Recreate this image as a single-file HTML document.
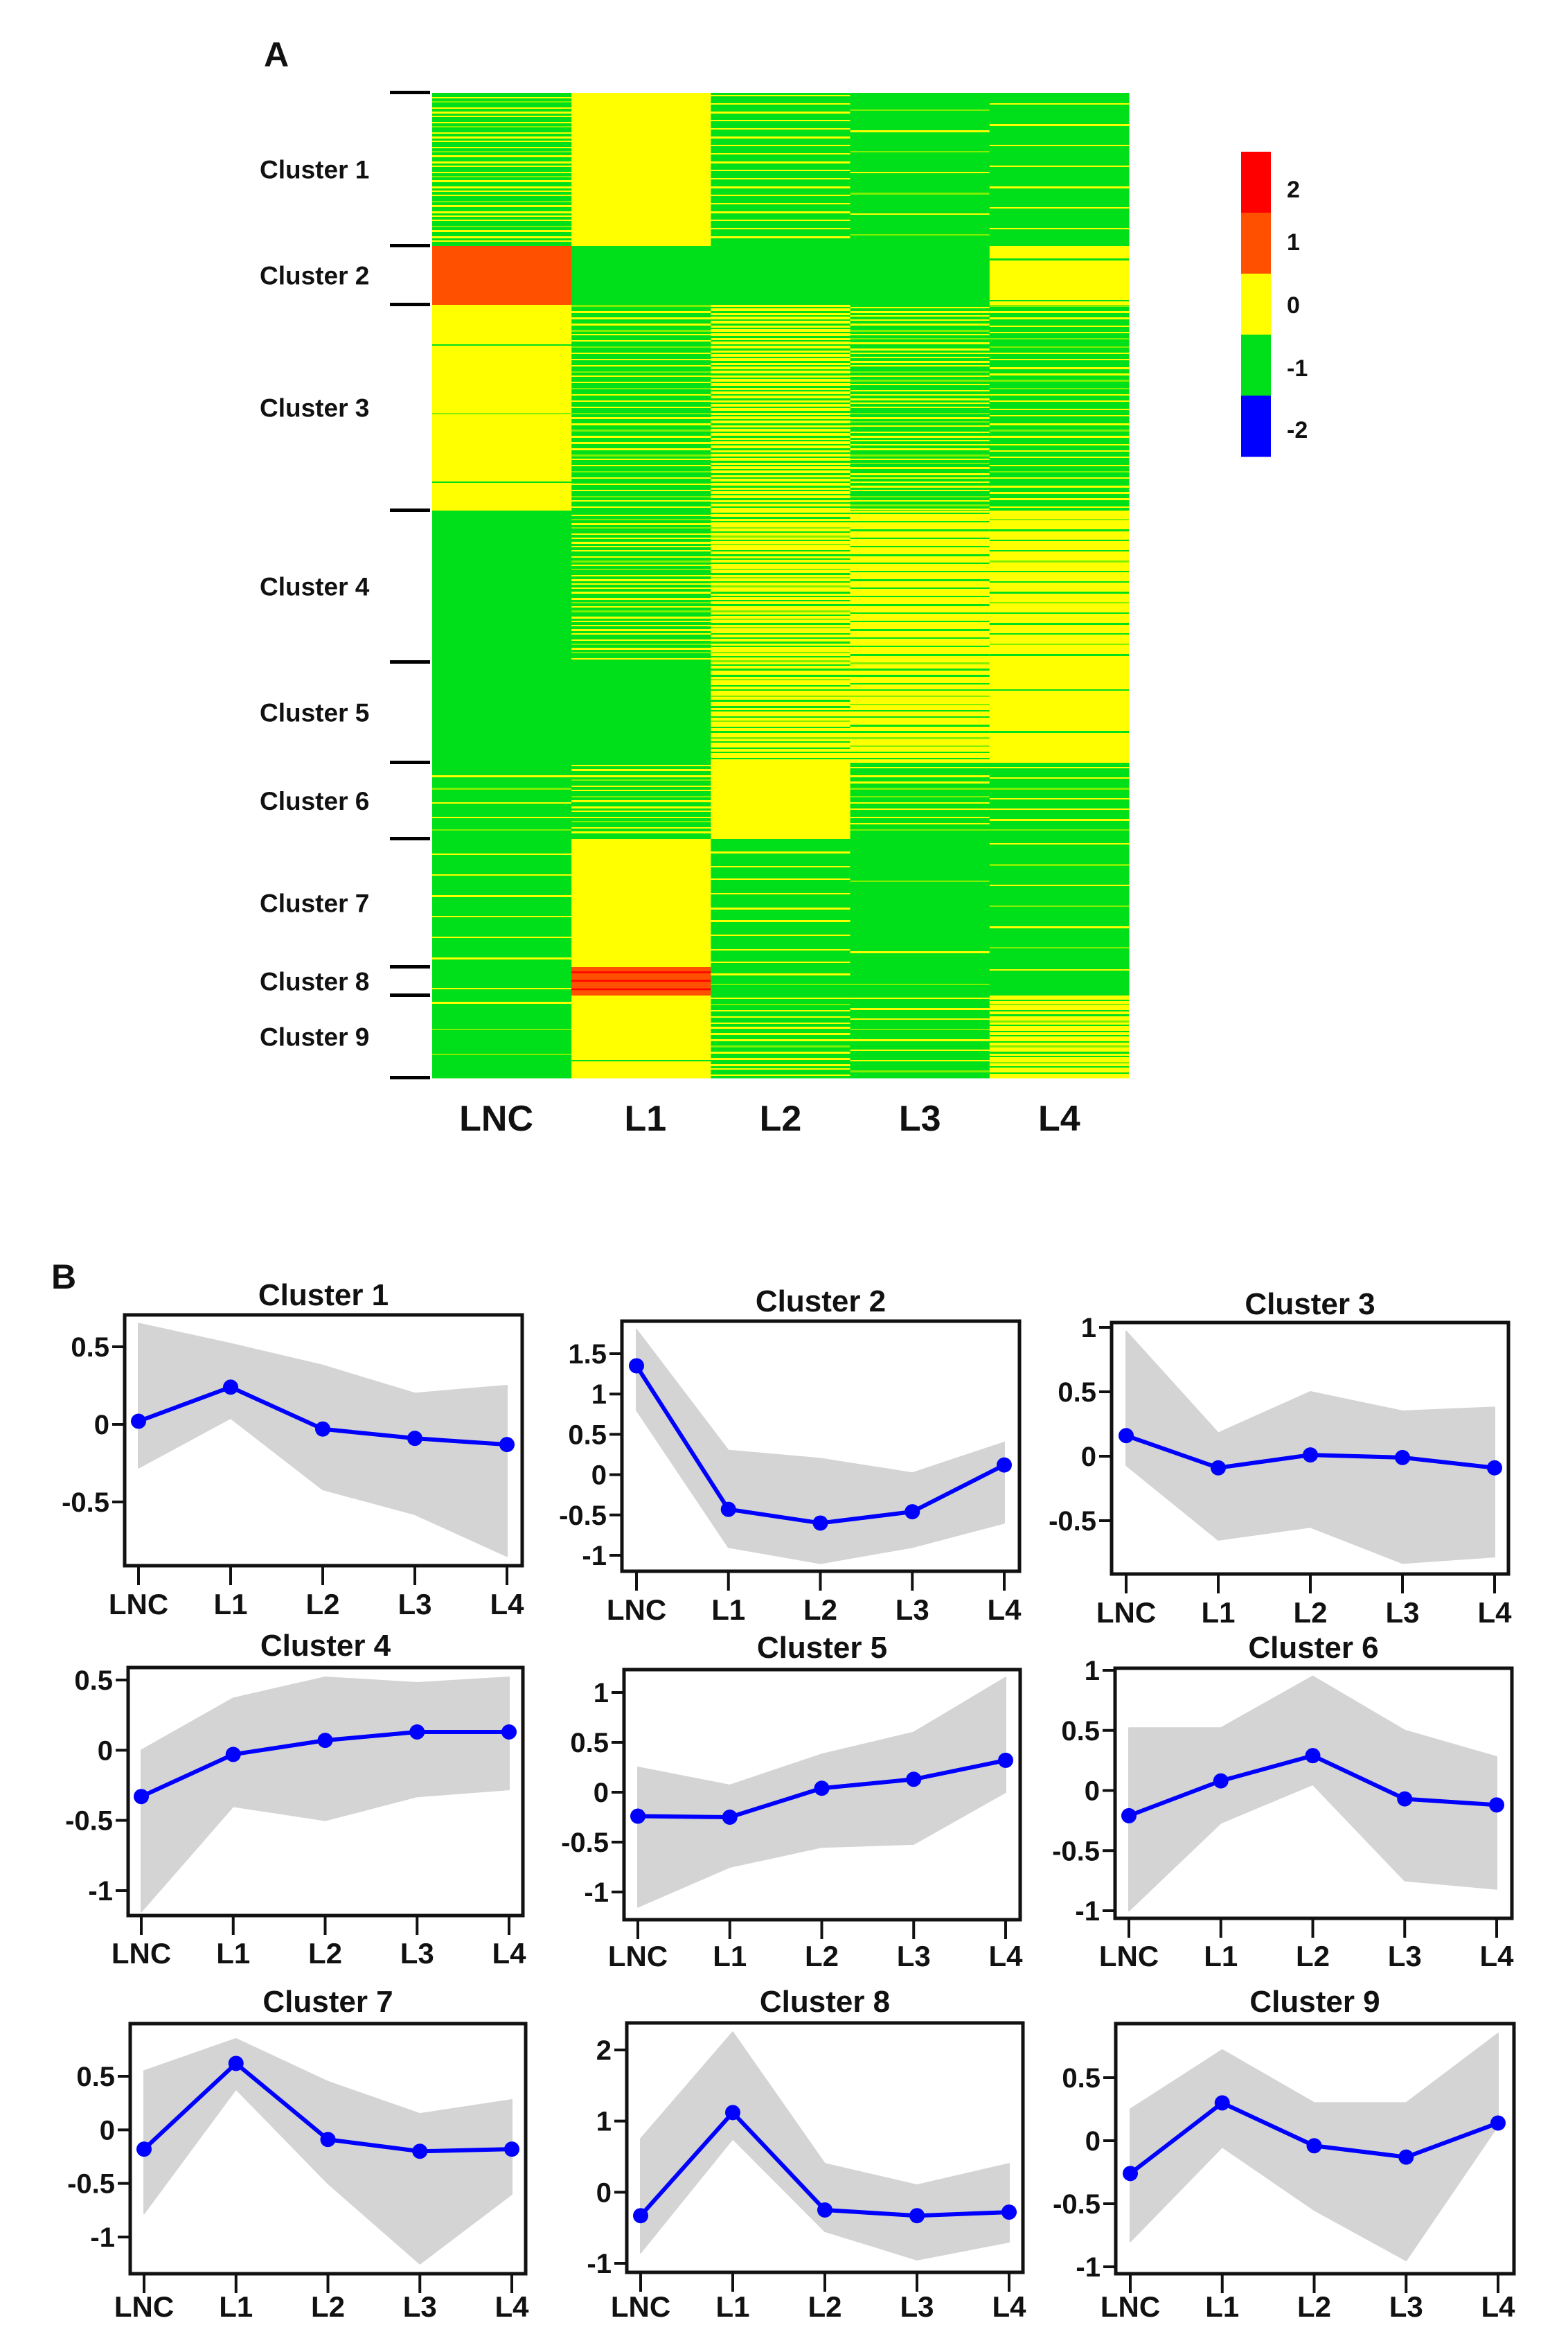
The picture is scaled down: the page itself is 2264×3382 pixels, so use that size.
<!DOCTYPE html>
<html><head><meta charset="utf-8"><style>
html,body{margin:0;padding:0;background:#fff;}
svg{display:block;}
text{font-family:"Liberation Sans",Arial,sans-serif;font-weight:bold;fill:#111;}
</style></head><body>
<svg id="fig" width="2264" height="3382" viewBox="0 0 2264 3382" xmlns="http://www.w3.org/2000/svg">
<text x="381" y="96" font-size="50">A</text>
<text x="74" y="1860" font-size="50" font-weight="normal">B</text>
<g id="heat"></g>
<g id="legend"></g>
<g id="panels"></g>
</svg>
<script>
const NS='http://www.w3.org/2000/svg';
function mk(tag,attrs,parent){const e=document.createElementNS(NS,tag);for(const k in attrs)e.setAttribute(k,attrs[k]);parent.appendChild(e);return e;}

// ---------- Heatmap data ----------
const hmColumns=['LNC','L1','L2','L3','L4'];
const hmClusters=['Cluster 1','Cluster 2','Cluster 3','Cluster 4','Cluster 5','Cluster 6','Cluster 7','Cluster 8','Cluster 9'];
const hmClusterSizes=[221,85,297,219,145,110,185,41,119];
// fraction of rows at level 0 (yellow) vs -1 (green); 2 = orange (level 1)
const hmYellowFrac=[
 [0.42,1.0,0.25,0.1,0.1],
 [2,0,0,0,0.95],
 [0.97,0.35,0.5,0.45,0.3],
 [0,0.45,0.55,0.75,0.8],
 [0,0,0.6,0.7,0.95],
 [0.15,0.4,1.0,0.3,0.2],
 [0.1,1.0,0.15,0.03,0.1],
 [0.05,2,0.2,0.05,0.03],
 [0.08,0.97,0.35,0.2,0.6]];
const legendLevels=['2','1','0','-1','-2'];
const legendColors=['#ff0000','#ff5000','#ffff00','#00e01a','#0000ff'];

const heat=document.getElementById('heat');
const HX0=624,HX1=1630,HY0=134,HY1=1556;
const colW=(HX1-HX0)/hmColumns.length;
const totalRows=hmClusterSizes.reduce((a,b)=>a+b,0);
const rowH=(HY1-HY0)/totalRows;
let yCur=HY0;
const boundaries=[HY0];
hmClusters.forEach((cname,ci)=>{
  const h=hmClusterSizes[ci]*rowH;
  hmColumns.forEach((col,j)=>{
    const f=hmYellowFrac[ci][j];
    const x=HX0+j*colW;
    const base=f===2?'#ff5000':(f>=0.5?'#ffff00':'#00e01a');
    const r=mk('rect',{x:x,y:yCur,width:colW+0.5,height:h+0.5,fill:base},heat);
    
    
    if(f===2){
      if(j>0){for(let k=0;k<3;k++){mk('rect',{x:x,y:yCur+h*(0.15+0.3*k),width:colW,height:2.5,fill:'#ff0000'},heat);}}
      return;
    }
    const minor=f>=0.5?1-f:f;
    const sc=f>=0.5?'#00e01a':'#ffff00';
    const n=Math.floor(h/3);
    const off=(j*0.37+ci*0.21)%1;
    for(let i=0;i<n;i++){
      if(Math.floor((i+1)*minor+off)>Math.floor(i*minor+off)){
        mk('rect',{x:x,y:yCur+i*3,width:colW,height:(i%3===0?3:2),fill:(i%4===0?'#80f000':sc)},heat);
      }
    }
  });
  yCur+=h;boundaries.push(yCur);
});
boundaries.forEach((b,i)=>{const t=mk('rect',{x:563,y:b-3,width:58,height:5,fill:'#000'},heat);
  });
hmClusters.forEach((c,i)=>{const cy=(boundaries[i]+boundaries[i+1])/2;
  const t=mk('text',{x:375,y:cy+13,'font-size':37},heat);t.textContent=c;
  });
hmColumns.forEach((c,j)=>{const t=mk('text',{x:HX0+(j+0.5)*colW-(j===0?8:(j===1?-6:0)),y:1632,'font-size':52,'text-anchor':'middle'},heat);t.textContent=c;
  });

// ---------- Legend ----------
const leg=document.getElementById('legend');
const LY0=219,LY1=659,segH=(LY1-LY0)/legendLevels.length;
legendLevels.forEach((lv,i)=>{
  const r=mk('rect',{x:1792,y:LY0+i*segH,width:43,height:segH+0.5,fill:legendColors[i]},leg);
  
  const ly=[273,349,440,531,620][i];
  const t=mk('text',{x:1858,y:ly+12,'font-size':34},leg);t.textContent=lv;
  
});

// ---------- Panel B data ----------
const stages=['LNC','L1','L2','L3','L4'];
const meanC1=[0.02,0.24,-0.03,-0.09,-0.13];
const meanC2=[1.35,-0.43,-0.60,-0.46,0.12];
const meanC3=[0.16,-0.09,0.01,-0.01,-0.09];
const meanC4=[-0.33,-0.03,0.07,0.13,0.13];
const meanC5=[-0.24,-0.25,0.04,0.13,0.32];
const meanC6=[-0.21,0.08,0.29,-0.07,-0.12];
const meanC7=[-0.18,0.62,-0.09,-0.20,-0.18];
const meanC8=[-0.33,1.12,-0.25,-0.33,-0.28];
const meanC9=[-0.26,0.30,-0.04,-0.13,0.14];
const upperC=[[0.65,0.52,0.38,0.2,0.25],[1.8,0.3,0.2,0.02,0.4],[0.97,0.18,0.5,0.35,0.38],[0.0,0.37,0.52,0.48,0.52],[0.25,0.07,0.38,0.6,1.15],[0.52,0.52,0.95,0.5,0.28],[0.55,0.85,0.45,0.15,0.28],[0.75,2.25,0.4,0.1,0.4],[0.25,0.72,0.3,0.3,0.85]];
const lowerC=[[-0.28,0.04,-0.42,-0.58,-0.85],[0.8,-0.9,-1.1,-0.9,-0.6],[-0.07,-0.65,-0.55,-0.83,-0.78],[-1.15,-0.4,-0.5,-0.33,-0.28],[-1.15,-0.75,-0.55,-0.52,0.0],[-1.0,-0.27,0.05,-0.75,-0.82],[-0.78,0.38,-0.5,-1.25,-0.6],[-0.85,0.75,-0.55,-0.95,-0.7],[-0.8,-0.05,-0.55,-0.95,0.12]];
const tickVals=[[0.5,0,-0.5],[1.5,1,0.5,0,-0.5,-1],[1,0.5,0,-0.5],[0.5,0,-0.5,-1],[1,0.5,0,-0.5,-1],[1,0.5,0,-0.5,-1],[0.5,0,-0.5,-1],[2,1,0,-1],[0.5,0,-0.5,-1]];
const tickLabels=[['0.5','0','-0.5'],['1.5','1','0.5','0','-0.5','-1'],['1','0.5','0','-0.5'],['0.5','0','-0.5','-1'],['1','0.5','0','-0.5','-1'],['1','0.5','0','-0.5','-1'],['0.5','0','-0.5','-1'],['2','1','0','-1'],['0.5','0','-0.5','-1']];
const means=[meanC1,meanC2,meanC3,meanC4,meanC5,meanC6,meanC7,meanC8,meanC9];

const layout=[
 {box:[180,1898,754,2260],ya:[0.5,1944,-0.5,2168],px:[200,732],tb:1884,lb:2330},
 {box:[898,1907,1472,2268],ya:[1.5,1954,-1,2245],px:[919,1450],tb:1893,lb:2338},
 {box:[1605,1909,2178,2272],ya:[1,1916,-0.5,2195],px:[1626,2158],tb:1897,lb:2342},
 {box:[185,2407,755,2765],ya:[0.5,2425,-1,2729],px:[204,735],tb:2390,lb:2834},
 {box:[901,2410,1473,2771],ya:[1,2443,-1,2731],px:[921,1452],tb:2393,lb:2838},
 {box:[1610,2408,2183,2769],ya:[1,2411,-1,2758],px:[1630,2161],tb:2393,lb:2838},
 {box:[188,2921,759,3282],ya:[0.5,2997,-1,3229],px:[208,739],tb:2904,lb:3344},
 {box:[905,2920,1477,3280],ya:[2,2959,-1,3267],px:[925,1457],tb:2904,lb:3344},
 {box:[1611,2921,2186,3282],ya:[0.5,2999,-1,3272],px:[1632,2163],tb:2904,lb:3344}];

const panels=document.getElementById('panels');
means.forEach((m,ci)=>{
  const L=layout[ci];const [bx0,by0,bx1,by1]=L.box;
  const g=mk('g',{},panels);
  
  
  const yS=v=>L.ya[1]+(v-L.ya[0])*(L.ya[3]-L.ya[1])/(L.ya[2]-L.ya[0]);
  const xS=i=>L.px[0]+i*(L.px[1]-L.px[0])/(stages.length-1);
  let pts=upperC[ci].map((v,i)=>xS(i)+','+yS(v));
  pts=pts.concat(lowerC[ci].map((v,i)=>xS(i)+','+yS(v)).reverse());
  const env=mk('polygon',{points:pts.join(' '),fill:'#d4d4d4',stroke:'#d4d4d4','stroke-width':2,'stroke-linejoin':'round'},g);
  
  
  const ml=mk('polyline',{points:m.map((v,i)=>xS(i)+','+yS(v)).join(' '),fill:'none',stroke:'#0000ff','stroke-width':6},g);
  
  
  m.forEach((v,i)=>{const c=mk('circle',{cx:xS(i),cy:yS(v),r:11,fill:'#0000ff'},g);
    
    });
  const b=mk('rect',{x:bx0,y:by0,width:bx1-bx0,height:by1-by0,fill:'none',stroke:'#111','stroke-width':5},g);
  
  
  tickVals[ci].forEach((v,k)=>{const y=yS(v);
    mk('line',{x1:bx0-18,x2:bx0,y1:y,y2:y,stroke:'#111','stroke-width':4},g);
    const t=mk('text',{x:bx0-22,y:y+14,'font-size':40,'font-weight':'normal','text-anchor':'end'},g);t.textContent=tickLabels[ci][k];
    
    });
  stages.forEach((s,i)=>{const x=xS(i);
    mk('line',{x1:x,x2:x,y1:by1,y2:by1+28,stroke:'#111','stroke-width':4},g);
    const t=mk('text',{x:x,y:L.lb,'font-size':42,'font-weight':'normal','text-anchor':'middle'},g);t.textContent=s;
    
    });
  const tt=mk('text',{x:(bx0+bx1)/2,y:L.tb,'font-size':44,'text-anchor':'middle'},g);tt.textContent='Cluster '+(ci+1);
  
  
});
</script>
</body></html>
